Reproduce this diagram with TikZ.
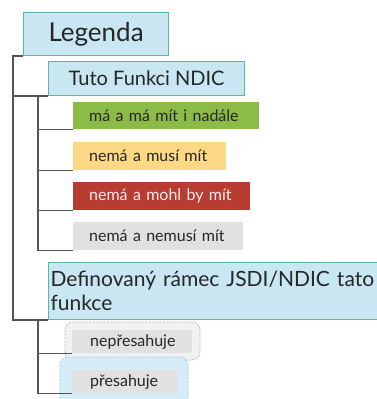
\documentclass[tikz,border=0pt]{standalone}
\usepackage{fontspec}
\setmainfont{Lato}
\usetikzlibrary{calc}
\definecolor{hdrfill}{HTML}{C8E7F3}
\definecolor{hdrline}{HTML}{5CB898}
\definecolor{greenfill}{HTML}{8DBB47}
\definecolor{yellowfill}{HTML}{FED985}
\definecolor{redfill}{HTML}{B83C31}
\definecolor{grayfill}{HTML}{E1E1E1}
\definecolor{conncol}{HTML}{555555}
\definecolor{txtcol}{HTML}{262626}
\definecolor{blobgray}{HTML}{F1F1F1}
\definecolor{blobgrayline}{HTML}{B5B5B5}
\definecolor{blobblue}{HTML}{D6EDF8}
\definecolor{blobblueline}{HTML}{8CC8E6}
\begin{document}
\begin{tikzpicture}[x=1pt,y=-1pt,
  hdr/.style={anchor=north west,draw=hdrline,line width=1.2pt,fill=hdrfill,inner sep=0pt,text=txtcol},
  item/.style={anchor=north west,inner xsep=16pt,inner ysep=0pt,align=left,text=txtcol,font=\fontsize{16}{18}\selectfont},
  conn/.style={draw=conncol,line width=1.8pt},
  blob/.style={line width=0.7pt,rounded corners=8pt,dash pattern=on 2pt off 1.5pt}]
\useasboundingbox (0,0) rectangle (377,399);
\clip (0,0) rectangle (377,399);
% background blobs
\path[blob,fill=blobgray,draw=blobgrayline] (65,322) rectangle (200,360);
\path[blob,fill=blobblue,draw=blobblueline] (60,357) rectangle (188,408);
% nodes
\node[hdr,minimum width=145pt,minimum height=43pt,font=\fontsize{26}{30}\selectfont] (legenda) at (23,12) {Legenda};
\node[hdr,minimum width=196pt,minimum height=34pt,font=\fontsize{20}{24}\selectfont] (tuto) at (48,61) {Tuto Funkci NDIC};
\node[item,fill=greenfill,text width=154pt,minimum height=27pt] (c1) at (73,102) {má a má mít i nadále};
\node[item,fill=yellowfill,text width=121pt,minimum height=28pt] (c2) at (73,142) {nemá a musí mít};
\node[item,fill=redfill,text width=145pt,minimum height=28pt,text=white!92!red] (c3) at (73,182) {nemá a mohl by mít};
\node[item,fill=grayfill,text width=138pt,minimum height=28pt] (c4) at (73,222) {nemá a nemusí mít};
\node[hdr,inner xsep=2pt,text width=336pt,align=left,minimum height=57pt,font=\fontsize{21}{24}\selectfont] (def) at (48,262) {Definovaný rámec JSDI/NDIC tato\\funkce};
\node[item,fill=grayfill,inner xsep=18pt,text width=84pt,minimum height=23pt] (n1) at (72,330) {nepřesahuje};
\node[item,fill=grayfill,inner xsep=18pt,text width=69pt,minimum height=23pt] (n2) at (72,370) {přesahuje};
% connectors
\coordinate (r0) at ($(legenda.south west)+(-10,0)$);
\coordinate (r1) at ($(tuto.south west)+(-10,0)$);
\coordinate (r2) at ($(def.south west)+(-10,0)$);
\draw[conn] (legenda.south west) -- (r0) |- (tuto.south west);
\draw[conn] (r0) |- (def.south west);
\foreach \c in {c1,c2,c3,c4} {\draw[conn] (r1) |- (\c.south west);}
\draw[conn] (r2) |- (n1.south west);
\draw[conn] (r2) |- (n2.south west);
\end{tikzpicture}
\end{document}
